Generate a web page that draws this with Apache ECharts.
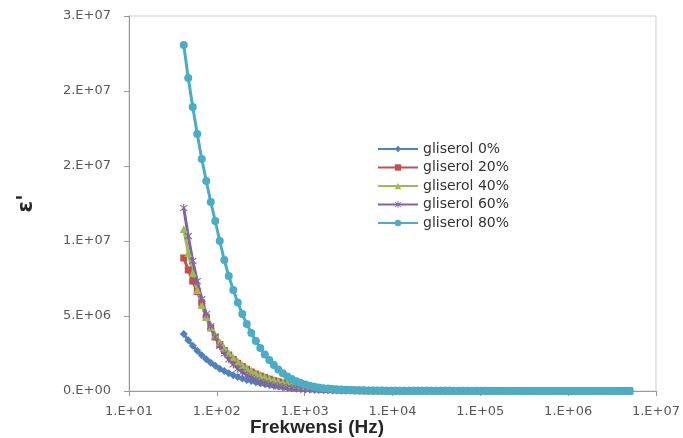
<!DOCTYPE html>
<html>
<head>
<meta charset="utf-8">
<script src="https://cdn.jsdelivr.net/npm/echarts@6/dist/echarts.min.js"></script>
<style>html,body{margin:0;padding:0;background:#fff;}#c{width:683px;height:438px;}</style>
</head>
<body>
<div id="c"></div>
<script>
// Frequency sweep (Hz)
var freq = [
42.0, 47.27, 53.19, 59.85, 67.36, 75.80, 85.30, 95.99, 108.0, 121.6,
136.8, 153.9, 173.2, 194.9, 219.4, 246.9, 277.8, 312.6, 351.8, 395.9,
445.5, 501.2, 564.1, 634.8, 714.3, 803.8, 904.6, 1018, 1146, 1289,
1451, 1633, 1837, 2067, 2326, 2618, 2946, 3315, 3731, 4198,
4724, 5316, 5983, 6732, 7576, 8526, 9594, 10797, 12150, 13673,
15387, 17316, 19486, 21928, 24676, 27770, 31251, 35167, 39576, 44535,
50118, 56400, 63468, 71424, 80376, 90451, 101735, 114490, 128830, 144990,
163160, 183610, 206620, 232520, 261660, 294460, 331370, 372900, 419640, 472220,
531420, 598030, 672980, 757330, 852250, 959000, 1079000, 1214500, 1366800, 1538000,
1730800, 1947800, 2191900, 2466600, 2775700, 3123700, 3515300, 3955500, 4451400, 5009400
];

var seriesNames = ['gliserol 0%', 'gliserol 20%', 'gliserol 40%', 'gliserol 60%', 'gliserol 80%'];

var gliserol0 = [
3.80e6, 3.38e6, 3.01e6, 2.68e6, 2.39e6, 2.12e6, 1.89e6, 1.68e6, 1.49e6, 1.33e6,
1.19e6, 1.05e6, 9.4e5, 8.3e5, 7.4e5, 6.6e5, 5.9e5, 5.2e5, 4.7e5, 4.1e5,
3.7e5, 3.3e5, 2.9e5, 2.5e5, 2.3e5, 2.0e5, 1.7e5, 1.5e5, 1.3e5, 1.2e5,
1.0e5, 9.0e4, 7.9e4, 6.9e4, 6.1e4, 5.4e4, 4.8e4, 4.3e4, 3.8e4, 3.4e4,
3.1e4, 2.8e4, 2.5e4, 2.3e4, 2.1e4, 1.9e4, 1.8e4, 1.7e4, 1.6e4, 1.5e4,
1.4e4, 1.35e4, 1.3e4, 1.25e4, 1.2e4, 1.15e4, 1.1e4, 1.05e4, 1.0e4, 9.6e3,
9.2e3, 8.8e3, 8.5e3, 8.2e3, 7.9e3, 7.6e3, 7.3e3, 7.0e3, 6.8e3, 6.6e3,
6.4e3, 6.2e3, 6.0e3, 5.8e3, 5.6e3, 5.4e3, 5.2e3, 5.0e3, 4.9e3, 4.8e3,
4.7e3, 4.6e3, 4.5e3, 4.4e3, 4.3e3, 4.2e3, 4.1e3, 4.0e3, 3.9e3, 3.8e3,
3.7e3, 3.6e3, 3.5e3, 3.4e3, 3.3e3, 3.2e3, 3.1e3, 3.0e3, 2.9e3, 2.8e3
];

var gliserol20 = [
8.87e6, 8.07e6, 7.33e6, 6.63e6, 5.87e6, 4.93e6, 4.20e6, 3.60e6, 3.10e6, 2.70e6,
2.40e6, 2.10e6, 1.85e6, 1.63e6, 1.44e6, 1.27e6, 1.13e6, 1.00e6, 8.9e5, 7.9e5,
6.9e5, 6.1e5, 5.3e5, 4.6e5, 4.1e5, 3.6e5, 3.1e5, 2.7e5, 2.3e5, 2.0e5,
1.75e5, 1.5e5, 1.28e5, 1.09e5, 9.3e4, 7.9e4, 6.7e4, 5.7e4, 4.8e4, 4.1e4,
3.5e4, 3.0e4, 2.6e4, 2.3e4, 2.0e4, 1.8e4, 1.6e4, 1.45e4, 1.32e4, 1.2e4,
1.1e4, 1.03e4, 9.7e3, 9.1e3, 8.6e3, 8.2e3, 7.8e3, 7.4e3, 7.1e3, 6.8e3,
6.5e3, 6.3e3, 6.1e3, 5.9e3, 5.7e3, 5.5e3, 5.3e3, 5.2e3, 5.1e3, 5.0e3,
4.9e3, 4.8e3, 4.7e3, 4.6e3, 4.5e3, 4.4e3, 4.3e3, 4.2e3, 4.1e3, 4.0e3,
3.95e3, 3.9e3, 3.85e3, 3.8e3, 3.75e3, 3.7e3, 3.65e3, 3.6e3, 3.55e3, 3.5e3,
3.45e3, 3.4e3, 3.35e3, 3.3e3, 3.25e3, 3.2e3, 3.15e3, 3.1e3, 3.05e3, 3.0e3
];

var gliserol40 = [
1.080e7, 9.20e6, 7.87e6, 6.73e6, 5.73e6, 4.93e6, 4.27e6, 3.73e6, 3.27e6, 2.87e6,
2.53e6, 2.23e6, 1.97e6, 1.73e6, 1.53e6, 1.35e6, 1.20e6, 1.07e6, 9.5e5, 8.4e5,
7.5e5, 6.7e5, 5.9e5, 5.3e5, 4.7e5, 4.1e5, 3.6e5, 3.1e5, 2.7e5, 2.3e5,
2.0e5, 1.7e5, 1.45e5, 1.22e5, 1.03e5, 8.7e4, 7.3e4, 6.1e4, 5.1e4, 4.3e4,
3.6e4, 3.1e4, 2.7e4, 2.4e4, 2.1e4, 1.9e4, 1.7e4, 1.55e4, 1.42e4, 1.3e4,
1.2e4, 1.12e4, 1.05e4, 9.9e3, 9.4e3, 8.9e3, 8.5e3, 8.1e3, 7.8e3, 7.5e3,
7.2e3, 6.9e3, 6.7e3, 6.5e3, 6.3e3, 6.1e3, 5.9e3, 5.7e3, 5.5e3, 5.4e3,
5.3e3, 5.2e3, 5.1e3, 5.0e3, 4.9e3, 4.8e3, 4.7e3, 4.6e3, 4.5e3, 4.4e3,
4.3e3, 4.25e3, 4.2e3, 4.15e3, 4.1e3, 4.05e3, 4.0e3, 3.95e3, 3.9e3, 3.85e3,
3.8e3, 3.75e3, 3.7e3, 3.65e3, 3.6e3, 3.55e3, 3.5e3, 3.45e3, 3.4e3, 3.35e3
];

var gliserol60 = [
1.220e7, 1.033e7, 8.67e6, 7.33e6, 6.13e6, 5.13e6, 4.33e6, 3.60e6, 3.00e6, 2.50e6,
2.10e6, 1.77e6, 1.49e6, 1.25e6, 1.05e6, 8.8e5, 7.4e5, 6.2e5, 5.2e5, 4.4e5,
3.7e5, 3.1e5, 2.7e5, 2.3e5, 1.93e5, 1.63e5, 1.40e5, 1.20e5, 1.03e5, 9.0e4,
7.7e4, 6.7e4, 5.8e4, 5.1e4, 4.5e4, 4.0e4, 3.6e4, 3.2e4, 2.9e4, 2.6e4,
2.4e4, 2.2e4, 2.0e4, 1.85e4, 1.72e4, 1.6e4, 1.5e4, 1.42e4, 1.34e4, 1.27e4,
1.21e4, 1.15e4, 1.1e4, 1.05e4, 1.01e4, 9.7e3, 9.3e3, 9.0e3, 8.7e3, 8.4e3,
8.1e3, 7.9e3, 7.7e3, 7.5e3, 7.3e3, 7.1e3, 6.9e3, 6.7e3, 6.5e3, 6.4e3,
6.3e3, 6.2e3, 6.1e3, 6.0e3, 5.9e3, 5.8e3, 5.7e3, 5.6e3, 5.5e3, 5.4e3,
5.3e3, 5.2e3, 5.1e3, 5.0e3, 4.9e3, 4.8e3, 4.7e3, 4.6e3, 4.5e3, 4.4e3,
4.3e3, 4.2e3, 4.1e3, 4.0e3, 3.9e3, 3.8e3, 3.7e3, 3.6e3, 3.5e3, 3.4e3
];

var gliserol80 = [
2.307e7, 2.087e7, 1.893e7, 1.713e7, 1.547e7, 1.400e7, 1.260e7, 1.133e7, 1.000e7, 8.73e6,
7.67e6, 6.73e6, 5.90e6, 5.13e6, 4.47e6, 3.87e6, 3.33e6, 2.87e6, 2.43e6, 2.07e6,
1.73e6, 1.43e6, 1.19e6, 9.7e5, 8.0e5, 6.5e5, 5.3e5, 4.3e5, 3.5e5, 2.9e5,
2.3e5, 1.9e5, 1.6e5, 1.3e5, 1.1e5, 9.2e4, 7.8e4, 6.6e4, 5.7e4, 4.9e4,
4.3e4, 3.8e4, 3.4e4, 3.0e4, 2.7e4, 2.5e4, 2.3e4, 2.1e4, 1.9e4, 1.8e4,
1.7e4, 1.6e4, 1.5e4, 1.4e4, 1.35e4, 1.3e4, 1.25e4, 1.2e4, 1.15e4, 1.1e4,
1.06e4, 1.02e4, 9.8e3, 9.5e3, 9.2e3, 8.9e3, 8.6e3, 8.4e3, 8.2e3, 8.0e3,
7.8e3, 7.6e3, 7.4e3, 7.2e3, 7.0e3, 6.9e3, 6.8e3, 6.7e3, 6.6e3, 6.5e3,
6.4e3, 6.3e3, 6.2e3, 6.1e3, 6.0e3, 5.9e3, 5.8e3, 5.7e3, 5.6e3, 5.5e3,
5.4e3, 5.3e3, 5.2e3, 5.1e3, 5.0e3, 4.9e3, 4.8e3, 4.7e3, 4.6e3, 4.5e3
];

var xTickLabels = ['1.E+01', '1.E+02', '1.E+03', '1.E+04', '1.E+05', '1.E+06', '1.E+07'];
var yTickLabels = ['0.E+00', '5.E+06', '1.E+07', '2.E+07', '2.E+07', '3.E+07'];

var colors = ['#4F81BD', '#C0504D', '#9BBB59', '#8064A2', '#4BACC6'];
var starPath = 'path://M1,0L5,4L9,0L10,1L6,5L10,9L9,10L5,6L1,10L0,9L4,5L0,1Z M4.3,-1L5.7,-1L5.7,11L4.3,11Z';
var symbols = ['diamond', 'rect', 'triangle', starPath, 'circle'];
var symbolSizes = [8, 7, 8, 8, 8];
var allValues = [gliserol0, gliserol20, gliserol40, gliserol60, gliserol80];

var series = allValues.map(function (vals, k) {
  return {
    name: seriesNames[k],
    type: 'line',
    data: freq.map(function (f, i) { return [f, vals[i]]; }),
    symbol: symbols[k],
    symbolSize: symbolSizes[k],
    showSymbol: true,
    lineStyle: { color: colors[k], width: 3 },
    itemStyle: { color: colors[k], borderWidth: 0 },
    emphasis: { disabled: true }
  };
});

var chart = echarts.init(document.getElementById('c'), null, { renderer: 'canvas' });
chart.setOption({
  animation: false,
  color: colors,
  grid: { left: 129, right: 27, top: 16, bottom: 47, show: true, borderColor: '#cfcfcf', borderWidth: 1, backgroundColor: 'transparent' },
  legend: {
    orient: 'vertical',
    left: 372,
    top: 137,
    itemWidth: 40,
    itemHeight: 8,
    itemGap: 4.5,
    textStyle: { fontFamily: 'DejaVu Sans', fontSize: 14, color: '#333333', lineHeight: 14 },
    data: seriesNames
  },
  xAxis: {
    type: 'log',
    logBase: 10,
    min: 10,
    max: 1e7,
    splitNumber: 6,
    axisLine: { lineStyle: { color: '#9a9a9a', width: 1 } },
    axisTick: { show: true, length: 5, lineStyle: { color: '#9a9a9a' } },
    minorTick: { show: false },
    splitLine: { show: false },
    axisLabel: {
      margin: 14,
      fontFamily: 'DejaVu Sans',
      fontSize: 13,
      color: '#595959',
      formatter: function (v) { return xTickLabels[Math.round(Math.log10(v)) - 1]; }
    }
  },
  yAxis: {
    type: 'value',
    min: 0,
    max: 2.5e7,
    interval: 5e6,
    name: "ε'",
    nameLocation: 'middle',
    nameRotate: 90,
    nameGap: 92,
    nameTextStyle: { fontFamily: 'DejaVu Sans', fontSize: 21, fontWeight: 'bold', color: '#262626' },
    axisLine: { show: true, lineStyle: { color: '#9a9a9a', width: 1 } },
    axisTick: { show: true, length: 5, lineStyle: { color: '#9a9a9a' } },
    splitLine: { show: false },
    axisLabel: {
      margin: 18,
      fontFamily: 'DejaVu Sans',
      fontSize: 13,
      color: '#595959',
      formatter: function (v) { return yTickLabels[Math.round(v / 5e6)]; }
    }
  },
  graphic: [{
    type: 'text',
    left: 250,
    top: 418,
    style: { text: 'Frekwensi (Hz)', font: 'bold 19px "Liberation Sans"', fill: '#262626' }
  }],
  series: series
});
</script>
</body>
</html>
